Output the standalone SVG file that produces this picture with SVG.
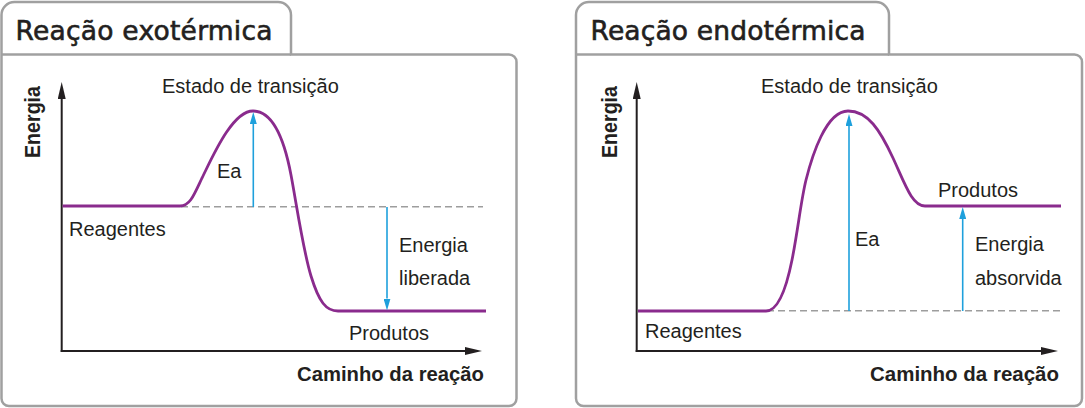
<svg xmlns="http://www.w3.org/2000/svg" width="1085" height="408" viewBox="0 0 1085 408">
<style>
.frame{fill:none;stroke:#a0a0a0;stroke-width:2.5}
.title{font-family:"DejaVu Sans",sans-serif;font-size:26.5px;fill:#231f20;stroke:#231f20;stroke-width:0.6}
.lbl{font-family:"Liberation Sans",Arial,sans-serif;font-size:20px;fill:#231f20}
.bold{font-family:"Liberation Sans",Arial,sans-serif;font-size:20.5px;font-weight:bold;fill:#231f20}
.vlbl{font-family:"Liberation Sans",Arial,sans-serif;font-size:22px;font-weight:bold;fill:#231f20}
.axis{fill:none;stroke:#231f20;stroke-width:2}
.curve{fill:none;stroke:#8a2b8d;stroke-width:2.8;stroke-linejoin:round}
.dash{fill:none;stroke:#9d9d9d;stroke-width:1.4;stroke-dasharray:7 4}
.blue{fill:none;stroke:#1ea0dc;stroke-width:1.6}
</style>
<defs>
<marker id="axisHead" viewBox="0 0 17 8" refX="0" refY="4" markerWidth="17" markerHeight="8" markerUnits="userSpaceOnUse" orient="auto">
<path d="M0,0 L17,4 L0,8 Z" fill="#231f20"/>
</marker>
<marker id="blueHead" viewBox="0 0 12 7" refX="0" refY="3.5" markerWidth="12" markerHeight="7" markerUnits="userSpaceOnUse" orient="auto">
<path d="M0,0 L12,3.5 L0,7 Z" fill="#1ea0dc"/>
</marker>
</defs>

<g id="panel-exo">
<path class="frame" d="M1.5,398.5 V15 A13,13 0 0 1 14.5,2 H278 A13,13 0 0 1 291,15 V54.5 H509 A7.5,7.5 0 0 1 516.5,62 V398.5 A7.5,7.5 0 0 1 509,406 H9 A7.5,7.5 0 0 1 1.5,398.5 Z"/>
<path class="frame" d="M1.5,54.5 H291"/>
<text class="title" x="15.5" y="40" textLength="257" lengthAdjust="spacing">Reação exotérmica</text>
</g>

<g id="panel-endo">
<path class="frame" d="M576,398.5 V15 A13,13 0 0 1 589,2 H876 A13,13 0 0 1 889,15 V54.5 H1074.5 A7.5,7.5 0 0 1 1082,62 V398.5 A7.5,7.5 0 0 1 1074.5,406 H583.5 A7.5,7.5 0 0 1 576,398.5 Z"/>
<path class="frame" d="M576,54.5 H889"/>
<text class="title" x="590.5" y="40" textLength="275" lengthAdjust="spacing">Reação endotérmica</text>
</g>

<g id="connectors">
<line class="axis" x1="61.7" y1="352" x2="61.7" y2="99" marker-end="url(#axisHead)"/>
<line class="axis" x1="60.7" y1="351" x2="465" y2="351" marker-end="url(#axisHead)"/>
<line class="axis" x1="636.7" y1="352" x2="636.7" y2="99" marker-end="url(#axisHead)"/>
<line class="axis" x1="635.7" y1="351" x2="1041" y2="351" marker-end="url(#axisHead)"/>

<path class="dash" d="M181,206.7 H483"/>
<path class="dash" d="M767,310.7 H1060"/>

<path class="curve" d="M62.7,206 H180 C190,206 194,195 202,178 C212,158 232,111 253,111 C272,111 284,138 291,175 C296,201 303,250 311,276 C319,302 326,311 338,311 H486"/>
<path class="curve" d="M638,311 H766 C778,311 786,290 792,260 C798,230 801,200 806,180 C812,156 826,111 848,111 C868,111 880,130 893,158 C905,184 912,206 925,206 H1061"/>

<line class="blue" x1="253.3" y1="207" x2="253.3" y2="124" marker-end="url(#blueHead)"/>
<line class="blue" x1="387" y1="207" x2="387" y2="298.5" marker-end="url(#blueHead)"/>
<line class="blue" x1="849" y1="311" x2="849" y2="126" marker-end="url(#blueHead)"/>
<line class="blue" x1="962.7" y1="311" x2="962.7" y2="219" marker-end="url(#blueHead)"/>
</g>

<g id="labels-exo">
<text class="vlbl" transform="translate(40,122) rotate(-90)" text-anchor="middle" textLength="72" lengthAdjust="spacingAndGlyphs">Energia</text>
<text class="lbl" x="162" y="93">Estado de transição</text>
<text class="lbl" x="217" y="178">Ea</text>
<text class="lbl" x="69" y="235.5">Reagentes</text>
<text class="lbl" x="399" y="251.5">Energia</text>
<text class="lbl" x="399" y="285">liberada</text>
<text class="lbl" x="349" y="340">Produtos</text>
<text class="bold" x="297" y="381" textLength="187" lengthAdjust="spacingAndGlyphs">Caminho da reação</text>
</g>

<g id="labels-endo">
<text class="vlbl" transform="translate(617,122) rotate(-90)" text-anchor="middle" textLength="72" lengthAdjust="spacingAndGlyphs">Energia</text>
<text class="lbl" x="761" y="93">Estado de transição</text>
<text class="lbl" x="938" y="196.5">Produtos</text>
<text class="lbl" x="855" y="245.5">Ea</text>
<text class="lbl" x="975" y="251">Energia</text>
<text class="lbl" x="975" y="285">absorvida</text>
<text class="lbl" x="645" y="337.5">Reagentes</text>
<text class="bold" x="870" y="381" textLength="189" lengthAdjust="spacingAndGlyphs">Caminho da reação</text>
</g>
</svg>
